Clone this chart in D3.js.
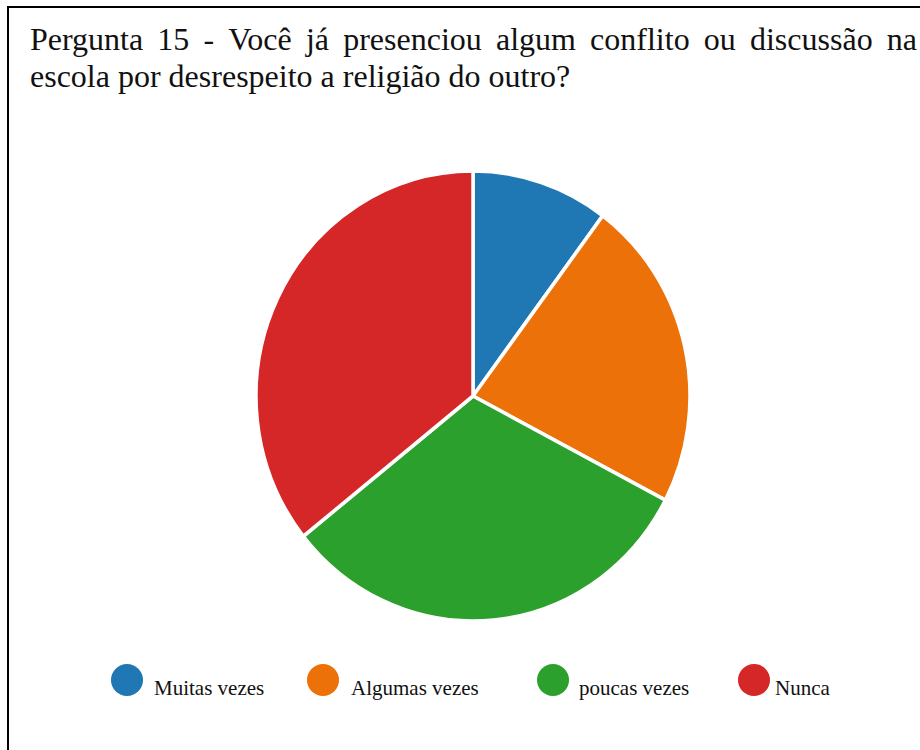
<!DOCTYPE html>
<html>
<head>
<meta charset="utf-8">
<script src="https://cdn.jsdelivr.net/npm/d3@7"></script>
<style>
  html, body { margin: 0; padding: 0; background: #fff; }
  svg { display: block; }
  .serif { font-family: "Liberation Serif", "Times New Roman", Times, "DejaVu Serif", serif; }
</style>
</head>
<body>
<svg id="chart" width="920" height="750"></svg>
<script>
// ---- data ----
const categories = ["Muitas vezes", "Algumas vezes", "poucas vezes", "Nunca"];
const values = [10, 22, 31, 35];
const colors = ["#1f77b4", "#ec7108", "#2ca02c", "#d62728"];
const titleLines = [
  "Pergunta 15 - Você já presenciou algum conflito ou discussão na",
  "escola por desrespeito a religião do outro?"
];

// ---- layout ----
const W = 920, H = 750;
const cx = 473, cy = 396, rx = 217, ry = 225;
const legendCircleX = [127, 323, 553, 754];
const legendTextX = [154, 351, 579, 775];
const legendY = 680;

const svg = d3.select("#chart");

// frame (only top and left visible)
svg.append("line").attr("x1", 8).attr("x2", W).attr("y1", 7).attr("y2", 7)
  .attr("stroke", "#000").attr("stroke-width", 2);
svg.append("line").attr("x1", 8).attr("x2", 8).attr("y1", 6).attr("y2", H)
  .attr("stroke", "#000").attr("stroke-width", 2);

// title
const titleX0 = 30, titleX1 = 917;
const t1 = svg.append("g").attr("class", "serif").style("font-size", "32px").attr("fill", "#111");
const words = titleLines[0].split(" ");
const wNodes = words.map(w => t1.append("text").attr("y", 50).text(w));
const widths = wNodes.map(n => n.node().getComputedTextLength());
const totalW = d3.sum(widths);
const gap = (titleX1 - titleX0 - totalW) / (words.length - 1);
let xpos = titleX0;
wNodes.forEach((n, i) => { n.attr("x", xpos); xpos += widths[i] + gap; });
t1.append("text").attr("x", titleX0).attr("y", 87).text(titleLines[1]);

// pie
const pie = d3.pie().sort(null).value(d => d)(values);
const arc = d3.arc().innerRadius(0).outerRadius(rx);
const g = svg.append("g").attr("transform", `translate(${cx},${cy}) scale(1,${ry / rx})`);
g.selectAll("path").data(pie).enter().append("path")
  .attr("d", arc)
  .attr("fill", (d, i) => colors[i])
  .attr("stroke", "#fff")
  .attr("stroke-width", 3.5)
  .attr("stroke-linejoin", "round");

// legend
const lg = svg.append("g").attr("class", "serif");
categories.forEach((c, i) => {
  lg.append("circle").attr("cx", legendCircleX[i]).attr("cy", legendY).attr("r", 16)
    .attr("fill", colors[i]);
  lg.append("text").attr("x", legendTextX[i]).attr("y", legendY + 15)
    .style("font-size", "21px").attr("fill", "#111").text(c);
});
</script>
</body>
</html>
